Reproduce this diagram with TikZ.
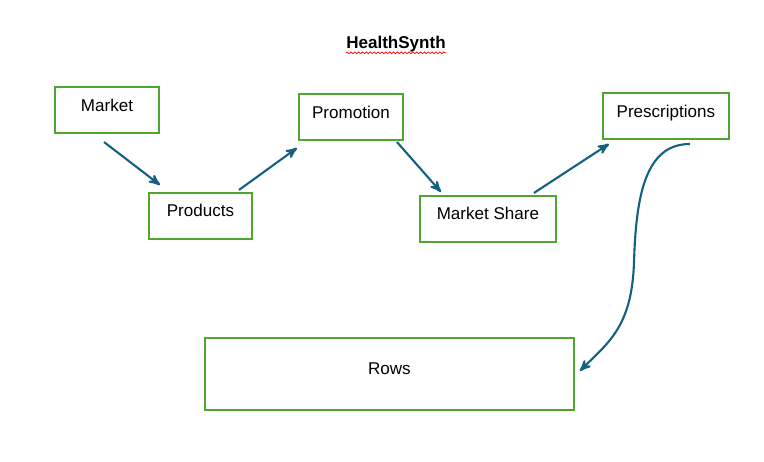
\documentclass[tikz,border=0pt]{standalone}
\usepackage{fontspec}
\setmainfont{Liberation Sans}
\usepackage{tikz}
\usetikzlibrary{arrows,positioning,calc,decorations.pathmorphing}

\definecolor{boxgreen}{RGB}{78,167,46}
\definecolor{flowblue}{RGB}{21,96,130}

\begin{document}
\begin{tikzpicture}[x=0.02cm,y=-0.02cm,>=stealth',
boxnode/.style={rectangle, draw=boxgreen, line width=1.4pt, inner sep=0pt, outer sep=0pt,
  minimum height=0.92cm, text height=0.48cm, text depth=0.44cm, font=\fontsize{9.7}{11}\selectfont},
flow/.style={->, draw=flowblue, line width=1.2pt},
]
\useasboundingbox (0,0) rectangle (764,461);

\node[font=\fontsize{9.7}{11}\bfseries, inner sep=0pt] (title) at (396,44) {HealthSynth};
\draw[red, line width=0.4pt, decorate, decoration={snake, amplitude=0.5pt, segment length=2.2pt}]
  ([yshift=-2.5pt]title.base west) -- ([yshift=-2.5pt]title.base east);

\node[boxnode, minimum width=2.08cm, anchor=north west] (mkt) at (55,87) {Market};
\node[boxnode, minimum width=2.06cm][below right=1.2cm and -0.2cm of mkt] (prod) {Products};
\node[boxnode, minimum width=2.08cm][above right=1.06cm and 0.94cm of prod] (prom) {Promotion};
\node[boxnode, minimum width=2.72cm][below right=1.12cm and 0.34cm of prom] (msh) {Market Share};
\node[boxnode, minimum width=2.52cm][above right=1.14cm and 0.94cm of msh] (presc) {Prescriptions};
\node[boxnode, minimum width=7.38cm, minimum height=1.44cm, text height=0.74cm, text depth=0.70cm]
  [below right=1.98cm and 1.12cm of prod.south west] (rows) {Rows};

\coordinate (bend) at (634,262);

\draw[flow] ([shift={(-3,9)}]mkt.south) -- ([shift={(11,-8)}]prod.north west);
\draw[flow] ([shift={(-13,-3)}]prod.north east) -- ([shift={(-2,8)}]prom.south west);
\draw[flow] ([shift={(-6,2)}]prom.south east) -- ([shift={(21,-4)}]msh.north west);
\draw[flow] ([shift={(-22,-3)}]msh.north east) -- ([shift={(6,5)}]presc.south west);
% curved link down to the table
\draw[flow] ([shift={(24,5)}]presc.south) .. controls +(-45,0) and +(2,-65) .. (bend)
  .. controls +(-2,65) and +(28,-28) .. ([shift={(6,-3)}]rows.east);

\end{tikzpicture}
\end{document}
